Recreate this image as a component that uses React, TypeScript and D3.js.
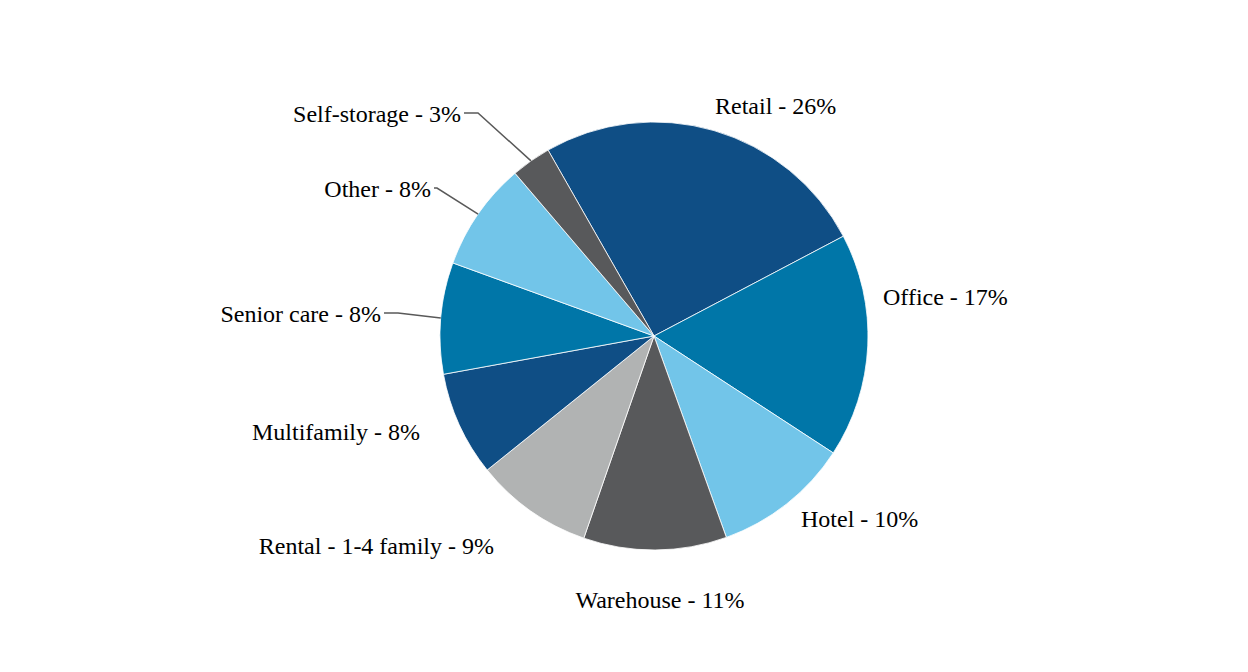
import { useEffect, useRef } from 'react';
import * as d3 from 'd3';

// slice order, clockwise from the Retail edge
const categories = [
  'Retail',
  'Office',
  'Hotel',
  'Warehouse',
  'Rental - 1-4 family',
  'Multifamily',
  'Senior care',
  'Other',
  'Self-storage',
];
const shares = [25.5, 16.9, 10.3, 10.8, 8.9, 7.9, 8.4, 8.2, 3.0];
const labelText = ['26%', '17%', '10%', '11%', '9%', '8%', '8%', '8%', '3%'];
const colors = ['#0f4e85', '#0076a8', '#72c5e9', '#58595b', '#b1b3b3', '#0f4e85', '#0076a8', '#72c5e9', '#58595b'];

// label anchors relative to the pie centre (hand placed like the original)
const labelLayout: { x: number; y: number; anchor: string; leader?: boolean }[] = [
  { x: 61, y: -230, anchor: 'start' },
  { x: 229, y: -39, anchor: 'start' },
  { x: 147, y: 183, anchor: 'start' },
  { x: 6, y: 264, anchor: 'middle' },
  { x: -160, y: 210, anchor: 'end' },
  { x: -234, y: 96, anchor: 'end' },
  { x: -273, y: -22, anchor: 'end', leader: true },
  { x: -223, y: -147, anchor: 'end', leader: true },
  { x: -193, y: -222, anchor: 'end', leader: true },
];

export default function App() {
  const ref = useRef<SVGSVGElement>(null);

  useEffect(() => {
    const svgEl = ref.current;
    if (!svgEl) return;
    const svg = d3.select(svgEl);
    svg.selectAll('*').remove();

    const cx = 654;
    const cy = 336;
    const radius = 214;
    const start = -0.518;

    const pie = d3
      .pie<number>()
      .sort(null)
      .value((d) => d)
      .startAngle(start)
      .endAngle(start + Math.PI * 2);
    const arcs = pie(shares);

    const arc = d3.arc<d3.PieArcDatum<number>>().innerRadius(0).outerRadius(radius);

    const g = svg.append('g').attr('transform', `translate(${cx},${cy})`);

    g.selectAll('path.slice')
      .data(arcs)
      .join('path')
      .attr('class', 'slice')
      .attr('d', arc)
      .attr('fill', (_d, i) => colors[i])
      .attr('stroke', '#ffffff')
      .attr('stroke-width', 0.8);

    // leader lines
    arcs.forEach((a, i) => {
      const lay = labelLayout[i];
      if (!lay.leader) return;
      const mid = (a.startAngle + a.endAngle) / 2;
      const ex = Math.sin(mid) * radius;
      const ey = -Math.cos(mid) * radius;
      const sx = lay.x + 3;
      const elbowX = lay.x + (i === 7 ? 6 : 17);
      const ly = lay.y - 1;
      const path = d3.path();
      path.moveTo(sx, ly);
      path.lineTo(elbowX, ly);
      path.lineTo(ex, ey);
      g.append('path')
        .attr('d', path.toString())
        .attr('fill', 'none')
        .attr('stroke', '#595959')
        .attr('stroke-width', 1.5);
    });

    g.selectAll('text.lbl')
      .data(arcs)
      .join('text')
      .attr('class', 'lbl')
      .attr('x', (_d, i) => labelLayout[i].x)
      .attr('y', (_d, i) => labelLayout[i].y)
      .attr('dy', '0.35em')
      .attr('text-anchor', (_d, i) => labelLayout[i].anchor)
      .attr('font-family', '"Liberation Serif", "Times New Roman", serif')
      .attr('font-size', 24)
      .attr('fill', '#000000')
      .text((_d, i) => `${categories[i]} - ${labelText[i]}`);
  }, []);

  return (
    <svg
      ref={ref}
      width={1248}
      height={672}
      style={{ position: 'absolute', left: 0, top: 0, background: '#ffffff' }}
    />
  );
}
